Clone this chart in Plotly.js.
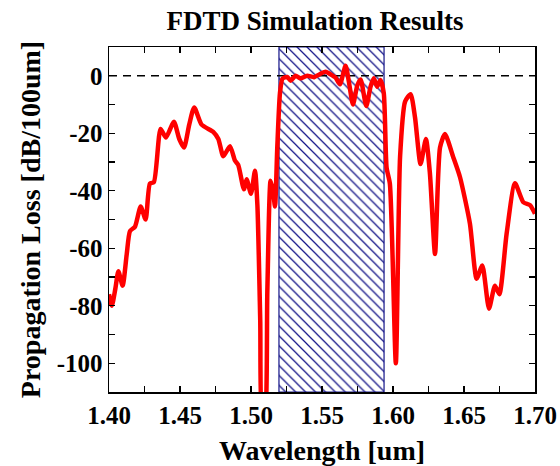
<!DOCTYPE html>
<html>
<head>
<meta charset="utf-8">
<script src="https://cdn.plot.ly/plotly-3.0.1.min.js"></script>
<style>html,body{margin:0;padding:0;background:#fff;}</style>
</head>
<body>
<div id="chart" style="width:560px;height:466px;"></div>
<script>
// Wavelength [um]
const wavelength = [
  1.4000, 1.4020, 1.4045, 1.4066, 1.4096, 1.4125, 1.4148, 1.4183, 1.4223, 1.4258,
  1.4288, 1.4316, 1.4363, 1.4401, 1.4457, 1.4495, 1.4528, 1.4565, 1.4600, 1.4652,
  1.4734, 1.4770, 1.4805, 1.4852, 1.4887, 1.4910, 1.4950, 1.4969, 1.5000, 1.5028,
  1.5045, 1.5065, 1.5080, 1.5095, 1.5115, 1.5138, 1.5155, 1.5169, 1.5185, 1.5204,
  1.5222, 1.5255, 1.5279, 1.5314, 1.5349, 1.5396, 1.5443, 1.5490, 1.5525, 1.5560,
  1.5596, 1.5626, 1.5666, 1.5690, 1.5718, 1.5749, 1.5772, 1.5812, 1.5842, 1.5865,
  1.5889, 1.5912, 1.5935, 1.5955, 1.5978, 1.6020, 1.6050, 1.6085, 1.6124, 1.6155,
  1.6194, 1.6232, 1.6260, 1.6296, 1.6331, 1.6366, 1.6425, 1.6472, 1.6542, 1.6589,
  1.6629, 1.6676, 1.6718, 1.6749, 1.6800, 1.6859, 1.6918, 1.6965, 1.7000
];
// Propagation loss [dB/100um]
const lossDb = [
  -76, -80, -74, -68, -73, -62, -54, -52.5, -45.5, -50,
  -37.5, -37, -18.5, -21.5, -16, -22, -25, -17, -11, -17,
  -19.5, -22, -28, -24.5, -29.5, -31, -39.5, -36, -41, -33,
  -45, -85, -120, -120, -75, -36.5, -40, -45.5, -25, -6,
  -1, -0.4, -1.7, 0, -0.9, 0, -0.5, 0.7, 1.4, 0.5,
  -0.7, -3, 3.5, -2.3, -10, -3.3, -1.3, -10.5, -3.8, -0.9,
  -3.8, -1.5, -6, -32, -37.6, -100, -28, -9, -6.4, -14.5,
  -30.7, -22, -34, -62, -25, -20.3, -28.4, -35.3, -51.5, -70.6,
  -66, -81, -73, -76, -55, -37.4, -44, -45, -48
];
// Hatched band (simulated passband) edges [um]
const bandEdges = [1.5197, 1.5937];
// Axis limits
const xLimits = [1.40, 1.70];
const yLimits = [-110, 10];
// Reference level
const refLevel = 0;
// Ticks
const xTickVals = [1.40, 1.425, 1.45, 1.475, 1.50, 1.525, 1.55, 1.575, 1.60, 1.625, 1.65, 1.675, 1.70];
const xTickText = ['1.40', '', '1.45', '', '1.50', '', '1.55', '', '1.60', '', '1.65', '', '1.70'];
const yTickVals = [0, -10, -20, -30, -40, -50, -60, -70, -80, -90, -100];
const yTickText = ['0', '', '-20', '', '-40', '', '-60', '', '-80', '', '-100'];

const serif = 'Liberation Serif, Times New Roman, serif';

const hatch = {
  type: 'scatter', mode: 'lines',
  x: [bandEdges[0], bandEdges[0], bandEdges[1], bandEdges[1], bandEdges[0]],
  y: [yLimits[0], yLimits[1], yLimits[1], yLimits[0], yLimits[0]],
  fill: 'toself',
  fillcolor: 'rgba(0,0,0,0)',
  fillpattern: {shape: '\\', fgcolor: '#141488', bgcolor: 'rgba(0,0,0,0)', size: 7, solidity: 0.18},
  line: {color: '#141488', width: 1.2},
  hoverinfo: 'skip', showlegend: false
};

const refLine = {
  type: 'scatter', mode: 'lines',
  x: xLimits, y: [refLevel, refLevel],
  line: {color: 'black', width: 1.5, dash: '8px,6px'},
  hoverinfo: 'skip', showlegend: false
};

const curve = {
  type: 'scatter', mode: 'lines',
  x: wavelength, y: lossDb,
  line: {color: '#ff0000', width: 4.5, shape: 'spline', smoothing: 0.6},
  showlegend: false
};

const axisCommon = {
  showgrid: false, zeroline: false,
  showline: true, linecolor: 'black', linewidth: 1.5, mirror: 'ticks',
  ticks: 'inside', ticklen: 6, tickwidth: 1.2, tickcolor: 'black',
  tickfont: {family: serif, size: 25, color: 'black', weight: 'bold'}
};

const layout = {
  width: 560, height: 466,
  margin: {l: 109, r: 25, t: 47, b: 74},
  paper_bgcolor: 'white', plot_bgcolor: 'white',
  title: {
    text: 'FDTD Simulation Results',
    font: {family: serif, size: 27, color: 'black', weight: 'bold'},
    xref: 'container', x: 0.5625, xanchor: 'center',
    yref: 'container', y: 0.955, yanchor: 'middle'
  },
  xaxis: Object.assign({}, axisCommon, {
    range: xLimits, tickmode: 'array', tickvals: xTickVals, ticktext: xTickText,
    title: {text: 'Wavelength [um]', font: {family: serif, size: 28, color: 'black', weight: 'bold'}, standoff: 17}
  }),
  yaxis: Object.assign({}, axisCommon, {
    range: yLimits, tickmode: 'array', tickvals: yTickVals, ticktext: yTickText,
    title: {text: 'Propagation Loss [dB/100um]', font: {family: serif, size: 28, color: 'black', weight: 'bold'}, standoff: 8}
  }),
  showlegend: false
};

Plotly.newPlot('chart', [hatch, refLine, curve], layout, {displayModeBar: false, staticPlot: true});
</script>
</body>
</html>
